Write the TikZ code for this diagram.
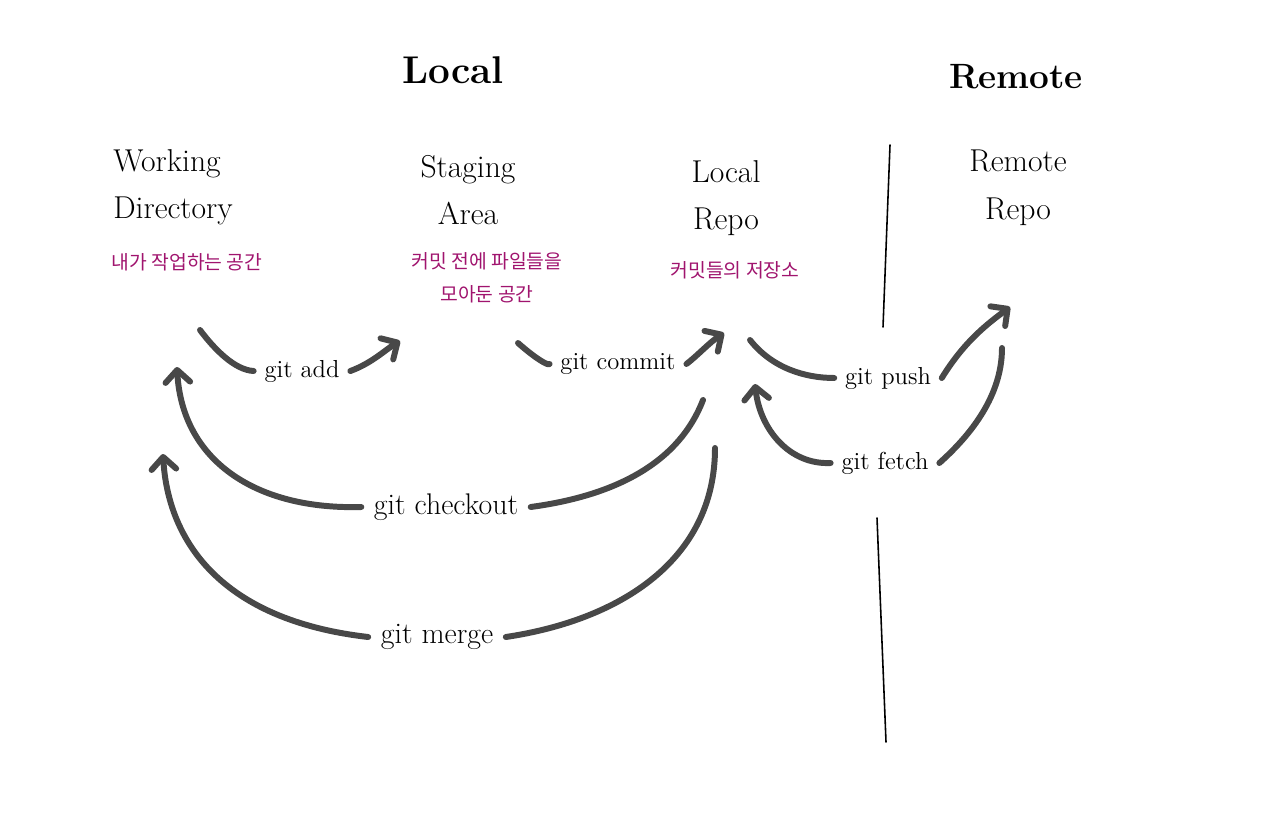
\documentclass[tikz,border=0pt]{standalone}
\usepackage{fontspec}
\usetikzlibrary{arrows.meta}
\newfontfamily\krfont{Noto Sans CJK KR}
\definecolor{arrowgray}{RGB}{72,72,72}
\definecolor{notepink}{RGB}{160,20,110}
\tikzset{
  flow/.style={
    draw=arrowgray,
    line width=3.4pt,
    line cap=round,
    line join=round
  },
  flow-tip/.style={
    flow,
    -{Straight Barb[length=7pt,width=14pt,line width=3.4pt,round]}
  },
  cmd-label/.style={font=\fontsize{14}{16}\selectfont, inner sep=6pt},
  cmd-big/.style={font=\fontsize{17}{19}\selectfont, inner sep=7pt},
  place-label/.style={font=\fontsize{18}{27}\selectfont, align=left, inner sep=0pt},
  note-label/.style={font=\krfont\fontsize{11}{19}\selectfont, text=notepink, align=center, inner sep=0pt},
  title-label/.style={font=\bfseries\fontsize{22}{26}\selectfont, inner sep=0pt},
  divider/.style={draw=black, line width=0.9pt, line cap=round}
}

\begin{document}
\begin{tikzpicture}[x=0.02cm, y=-0.02cm]
  \useasboundingbox (0,0) rectangle (1280,814);
  % Titles
  \node[title-label] (local) at (453,70) {Local};
  \node[title-label, font=\bfseries\fontsize{20}{24}\selectfont] (remote) at (1016,77) {Remote};
  % Places
  \node[place-label, anchor=west] (wd) at (113,187) {Working\\Directory};
  \node[place-label, align=center] (sa) at (468,190) {Staging\\Area};
  \node[place-label, align=center] (lr) at (726,198) {Local\\Repo};
  \node[place-label, align=center] (rr) at (1018,188) {Remote\\Repo};
  % Notes
  \node[note-label] (wd-note) at (187,262) {내가 작업하는 공간};
  \node[note-label] (sa-note) at (487,278) {커밋 전에 파일들을\\모아둔 공간};
  \node[note-label] (lr-note) at (735,270) {커밋들의 저장소};
  % Local / Remote divider
  \draw[divider] (890,145) -- (883,327);
  \draw[divider] (877,518) -- (886,742);
  % Commands
  \node[cmd-label] (add) at (302,371) {git add};
  \node[cmd-label] (commit) at (618,364) {git commit};
  \node[cmd-label] (push) at (888,378) {git push};
  \node[cmd-label] (fetch) at (885,463) {git fetch};
  \node[cmd-big] (checkout) at (446,507) {git checkout};
  \node[cmd-big] (merge) at (437,637) {git merge};
  % Free ends
  \coordinate (add-a) at (200,330);
  \coordinate (add-b) at (400,341);
  \coordinate (commit-a) at (518,343);
  \coordinate (commit-b) at (724,333);
  \coordinate (push-a) at (750,340);
  \coordinate (push-b) at (1010,307);
  \coordinate (fetch-a) at (1002,348);
  \coordinate (fetch-b) at (755,384);
  \coordinate (checkout-a) at (703,400);
  \coordinate (checkout-b) at (177,367);
  \coordinate (merge-a) at (715,448);
  \coordinate (merge-b) at (163,454);
  % git add
  \draw[flow] (add-a) .. controls (215,350) and (235,370) .. (add.west);
  \draw[flow-tip] (add.east) .. controls (372,363) and (385,350) .. (add-b);
  % git commit
  \draw[flow] (commit-a) .. controls (535,358) and (548,366) .. (commit.west);
  \draw[flow-tip] (commit.east) .. controls (697,356) and (710,342) .. (commit-b);
  % git push
  \draw[flow] (push-a) .. controls (772,368) and (805,378) .. (push.west);
  \draw[flow-tip] (push.east) .. controls (965,340) and (990,322) .. (push-b);
  % git fetch
  \draw[flow] (fetch-a) .. controls (1002,400) and (965,440) .. (fetch.east);
  \draw[flow-tip] (fetch.west) .. controls (790,465) and (760,430) .. (fetch-b);
  % git checkout
  \draw[flow] (checkout-a) .. controls (680,460) and (620,495) .. (checkout.east);
  \draw[flow-tip] (checkout.west) .. controls (255,510) and (182,460) .. (checkout-b);
  % git merge
  \draw[flow] (merge-a) .. controls (715,560) and (620,620) .. (merge.east);
  \draw[flow-tip] (merge.west) .. controls (220,620) and (168,540) .. (merge-b);
\end{tikzpicture}
\end{document}
